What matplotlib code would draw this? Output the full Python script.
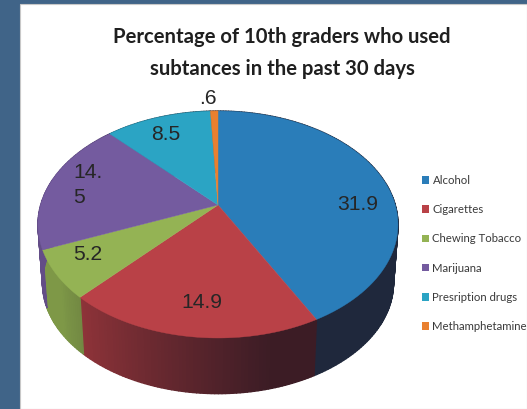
import numpy as np
import matplotlib
matplotlib.use("Agg")
import matplotlib.pyplot as plt
from matplotlib.patches import Patch, Polygon, Rectangle
from matplotlib.collections import PolyCollection

categories = ["Alcohol", "Cigarettes", "Chewing Tobacco", "Marijuana",
              "Presription drugs", "Methamphetamine"]
values = [31.9, 14.9, 5.2, 14.5, 8.5, 0.6]
value_labels = ["31.9", "14.9", "5.2", "14.\n5", "8.5", ".6"]
colors = ["#2a7db9", "#b94147", "#94b354", "#745b9f", "#2ba4c4", "#e9802f"]
title = "Percentage of 10th graders who used\nsubtances in the past 30 days"

# label centres in pixels, the labels were placed by hand in the original
label_pos = [(358, 204), (202, 302), (88, 254), (88, 185), (166, 134), (208, 98)]

# perspective disc fitted to the picture
APEX_X, APEX_Y = 218, 205
RX, RY, PERSP = 177.3, 110.1, 0.172
BOTTOM_SCALE, BOTTOM_APEX_Y = 0.975, 264


def top_rim(t):
    u, v = np.sin(t), np.cos(t)
    d = 1 + PERSP * v
    return APEX_X + RX * u / d, APEX_Y - RY * v / d


def bottom_rim(t):
    u, v = np.sin(t), np.cos(t)
    d = 1 + PERSP * v
    return (APEX_X + BOTTOM_SCALE * RX * u / d,
            BOTTOM_APEX_Y - BOTTOM_SCALE * RY * v / d)


def side_color(base, x):
    # light on the left of the rim, almost black to the right
    f = np.clip((x - 60) / (270 - 60), 0, 1)
    rgb = np.array(matplotlib.colors.to_rgb(base))
    lit = rgb * 0.85
    dark = rgb * 0.2 + np.array([0.09, 0.06, 0.09])
    return tuple(lit + (dark - lit) * f ** 0.8)


fig = plt.figure(figsize=(5.27, 4.09), dpi=100, facecolor="white")
ax = fig.add_axes([0, 0, 1, 1])
ax.set_xlim(0, 527)
ax.set_ylim(409, 0)
ax.axis("off")

# slide background around the white chart panel
ax.add_patch(Rectangle((0, 0), 527, 409, fc="#406488", ec="none", zorder=0))
ax.add_patch(Rectangle((20, 4), 507, 405, fc="white", ec="#c8c8c8", lw=0.8, zorder=1))

edges = np.radians(np.cumsum([0] + values) / sum(values) * 360)

# side wall first, top faces go over the hidden part
for i, color in enumerate(colors):
    ts = np.arange(edges[i], edges[i + 1], np.radians(1.0))
    ts = np.append(ts, edges[i + 1])
    quads, fills = [], []
    for t0, t1 in zip(ts[:-1], ts[1:]):
        x0, y0 = top_rim(t0)
        x1, y1 = top_rim(t1)
        x2, y2 = bottom_rim(t1)
        x3, y3 = bottom_rim(t0)
        quads.append([(x0, y0), (x1, y1), (x2, y2), (x3, y3)])
        fills.append(side_color(color, (x0 + x1) / 2))
    ax.add_collection(PolyCollection(quads, facecolors=fills, edgecolors=fills,
                                     linewidths=1.0, zorder=2))

for i, color in enumerate(colors):
    ts = np.linspace(edges[i], edges[i + 1], 80)
    xs, ys = top_rim(ts)
    pts = [(APEX_X, APEX_Y)] + list(zip(xs, ys))
    ax.add_patch(Polygon(pts, closed=True, fc=color, ec=color, lw=0.3, zorder=3))

for text, (x, y) in zip(value_labels, label_pos):
    ax.text(x, y, text, ha="center", va="center", multialignment="left",
            fontsize=15.2, color="#262626", family="Liberation Sans",
            linespacing=1.4, zorder=4)

ax.text(282, 53, title, ha="center", va="center", fontsize=14.6, fontweight="bold",
        family="Lato", color="#1f1f1f", linespacing=1.7, zorder=4)

handles = [Patch(fc=c, ec="none") for c in colors]
ax.legend(handles, categories, loc="center left", bbox_to_anchor=(422, 253.5),
          bbox_transform=ax.transData, frameon=False,
          prop={"family": "Lato", "size": 8.2}, labelcolor="#3a3a3a",
          handlelength=0.62, handleheight=0.62, handletextpad=0.3,
          labelspacing=1.6, borderpad=0, borderaxespad=0)

fig.savefig("out.png", dpi=100)
